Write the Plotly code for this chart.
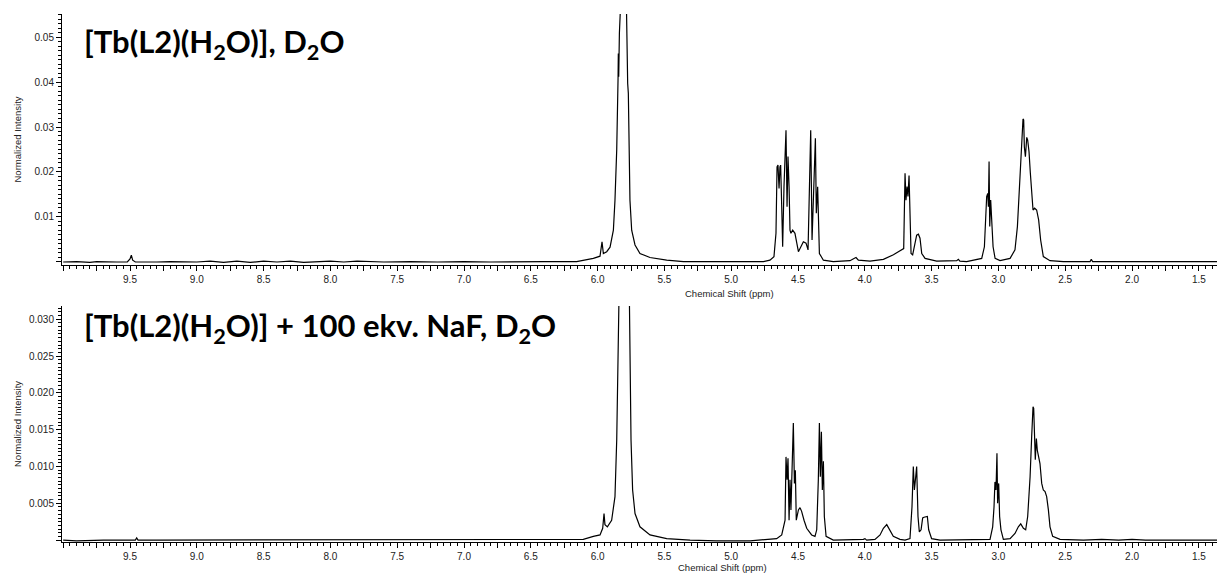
import plotly.graph_objects as go

# ---------------- data ----------------
top_ppm = [10.0, 9.9, 9.8, 9.75, 9.6, 9.52, 9.50, 9.49, 9.48, 9.46, 9.3, 9.2, 9.0, 8.9, 8.8, 8.7,
           8.6, 8.5, 8.4, 8.3, 8.2, 8.0, 7.9, 7.8, 7.6, 7.4, 7.2, 7.0, 6.8, 6.6, 6.4,
           6.157, 6.107, 6.032, 5.982, 5.967, 5.957, 5.932, 5.907, 5.882, 5.870, 5.857, 5.847,
           5.845, 5.842, 5.837, 5.832, 5.826, 5.815, 5.803, 5.785, 5.780, 5.775, 5.770, 5.765,
           5.758, 5.745, 5.720, 5.683, 5.608, 5.483, 5.358, 5.109, 4.759, 4.710, 4.680, 4.665,
           4.657, 4.650, 4.642, 4.635, 4.630, 4.622, 4.615, 4.605, 4.597, 4.590, 4.582, 4.575,
           4.567, 4.560, 4.553, 4.540, 4.523, 4.497, 4.460, 4.440, 4.425, 4.415, 4.405, 4.395,
           4.383, 4.370, 4.363, 4.353, 4.340, 4.310, 4.236, 4.111, 4.081, 4.066, 4.048, 3.986,
           3.961, 3.861, 3.786, 3.749, 3.724, 3.709, 3.699, 3.692, 3.684, 3.677, 3.669, 3.662,
           3.654, 3.642, 3.624, 3.612, 3.599, 3.587, 3.574, 3.549, 3.462, 3.312, 3.300, 3.288,
           3.238, 3.125, 3.105, 3.095, 3.088, 3.080, 3.075, 3.070, 3.065, 3.058, 3.050, 3.040,
           3.025, 2.988, 2.913, 2.876, 2.858, 2.843, 2.828, 2.816, 2.811, 2.806, 2.798, 2.788,
           2.781, 2.771, 2.761, 2.751, 2.741, 2.729, 2.714, 2.699, 2.684, 2.664, 2.614, 2.514,
           2.314, 2.305, 2.295, 2.115, 1.9, 1.7, 1.5, 1.36]
top_int = [-0.0001, 0.0, -0.0002, 0.0, -0.0001, -0.0001, 0.0006, 0.0014, 0.0003, -0.0001, -0.0001, 0.0,
           -0.0001, 0.0001, -0.0002, 0.0001, -0.0002, 0.0001, -0.0001, 0.0001, -0.0002, 0.0001,
           -0.0001, 0.0001, -0.0001, 0.0, -0.0001, 0.0, -0.0001, 0.0, 0.0,
           0.0, 0.0003, 0.0007, 0.0012, 0.0044, 0.0018, 0.0022, 0.0032, 0.0070, 0.0137, 0.0249, 0.0409,
           0.0464, 0.0412, 0.0509, 0.0583, 0.075, 0.068, 0.075, 0.0583, 0.0409, 0.0397, 0.0375, 0.0286,
           0.0137, 0.0070, 0.0037, 0.0018, 0.0009, 0.0003, 0.0, 0.0, 0.0, 0.0003, 0.0011, 0.0063,
           0.0211, 0.0215, 0.0163, 0.0211, 0.0215, 0.0122, 0.0033, 0.0167, 0.0271, 0.0293, 0.0122, 0.0234,
           0.0167, 0.0070, 0.0063, 0.0070, 0.0063, 0.0022, 0.0044, 0.0041, 0.0026, 0.0160, 0.0293, 0.0048,
           0.0174, 0.0275, 0.0108, 0.0167, 0.0018, 0.0003, 0.0, 0.0002, 0.0007, 0.0009, 0.0003, 0.0001,
           0.0001, 0.0005, 0.0015, 0.0022, 0.0026, 0.0029, 0.0197, 0.0137, 0.0167, 0.0145, 0.0192, 0.0070,
           0.0018, 0.0015, 0.0041, 0.0059, 0.0061, 0.0052, 0.0018, 0.0007, 0.0001, 0.0002, 0.0005, 0.0001,
           0.0, 0.0007, 0.0033, 0.0100, 0.0145, 0.0152, 0.0122, 0.0223, 0.0078, 0.0137, 0.0078, 0.0033,
           0.0007, 0.0002, 0.0007, 0.0026, 0.0078, 0.0174, 0.0263, 0.0318, 0.0316, 0.0256, 0.0234, 0.0277,
           0.0271, 0.0245, 0.0197, 0.0145, 0.0115, 0.0119, 0.0115, 0.0093, 0.0048, 0.0011, 0.0002, 0.0,
           0.0, 0.0005, 0.0, 0.0, 0.0, 0.0, 0.0, 0.0]

bot_ppm = [10.0, 9.9, 9.7, 9.5, 9.46, 9.45, 9.44, 9.3, 9.0, 8.5, 8.0, 7.5, 7.0, 6.8, 6.6, 6.4,
           6.3, 6.182, 6.107, 6.032, 5.982, 5.962, 5.952, 5.945, 5.927, 5.895, 5.870, 5.857, 5.847,
           5.840, 5.837, 5.825, 5.815, 5.805, 5.763, 5.758, 5.750, 5.738, 5.720, 5.683, 5.608, 5.483,
           5.308, 5.109, 4.859, 4.660, 4.622, 4.597, 4.590, 4.582, 4.575, 4.567, 4.560, 4.553, 4.543,
           4.535, 4.527, 4.520, 4.513, 4.497, 4.485, 4.473, 4.455, 4.435, 4.398, 4.373, 4.360, 4.348,
           4.340, 4.333, 4.325, 4.318, 4.310, 4.303, 4.290, 4.236, 4.011, 3.999, 3.986, 3.924, 3.886,
           3.861, 3.836, 3.811, 3.787, 3.737, 3.699, 3.662, 3.647, 3.637, 3.629, 3.619, 3.612, 3.602,
           3.592, 3.579, 3.567, 3.557, 3.542, 3.532, 3.522, 3.500, 3.437, 3.337, 3.2, 3.063, 3.043,
           3.033, 3.026, 3.018, 3.011, 3.006, 2.998, 2.991, 2.981, 2.963, 2.913, 2.876, 2.851, 2.833,
           2.813, 2.796, 2.781, 2.763, 2.751, 2.741, 2.736, 2.731, 2.724, 2.716, 2.709, 2.699, 2.689,
           2.676, 2.664, 2.651, 2.639, 2.626, 2.614, 2.594, 2.539, 2.364, 2.227, 2.1, 2.0, 1.9, 1.7,
           1.5, 1.36]
bot_int = [0.0, -0.0001, 0.0, 0.0, 0.0, 0.0003, 0.0, 0.0, 0.0, 0.0, 0.0, 0.0, 0.0, 0.0, 0.0001, 0.0,
           0.0, 0.0, 0.0001, 0.0005, 0.0007, 0.0016, 0.0036, 0.0021, 0.0018, 0.0027, 0.0059, 0.0136, 0.0249,
           0.0317, 0.0340, 0.050, 0.047, 0.050, 0.0340, 0.0249, 0.0136, 0.0068, 0.0036, 0.0018, 0.0007, 0.0002,
           0.0, -0.0001, -0.0001, 0.0002, 0.0007, 0.0027, 0.0113, 0.0082, 0.0111, 0.0027, 0.0082, 0.0041, 0.0104,
           0.0159, 0.0077, 0.0095, 0.0027, 0.0041, 0.0044, 0.0039, 0.0027, 0.0016, 0.0007, 0.0005, 0.0014, 0.0082,
           0.0159, 0.0086, 0.0147, 0.0068, 0.0107, 0.0032, 0.0005, 0.0, 0.0001, 0.0002, 0.0, 0.0001, 0.0007,
           0.0016, 0.0021, 0.0013, 0.0005, 0.0001, 0.0, 0.0002, 0.0045, 0.0100, 0.0068, 0.0086, 0.0100, 0.0032,
           0.0011, 0.0014, 0.0030, 0.0031, 0.0032, 0.0032, 0.0014, 0.0002, 0.0, 0.0, 0.0001, 0.0001, 0.0018,
           0.0045, 0.0079, 0.0068, 0.0118, 0.0050, 0.0077, 0.0032, 0.0014, 0.0001, 0.0002, 0.0009, 0.0018, 0.0022,
           0.0016, 0.0014, 0.0032, 0.0086, 0.0141, 0.0181, 0.0179, 0.0150, 0.0109, 0.0138, 0.0122, 0.0113, 0.0104,
           0.0077, 0.0068, 0.0066, 0.0059, 0.0041, 0.0018, 0.0005, 0.0001, 0.0, 0.0001, 0.0, 0.0001, 0.0, 0.0,
           0.0, 0.0]

x_tickvals = [10.0, 9.75, 9.5, 9.25, 9.0, 8.75, 8.5, 8.25, 8.0, 7.75, 7.5, 7.25, 7.0, 6.75, 6.5, 6.25,
              6.0, 5.75, 5.5, 5.25, 5.0, 4.75, 4.5, 4.25, 4.0, 3.75, 3.5, 3.25, 3.0, 2.75, 2.5, 2.25,
              2.0, 1.75, 1.5]
x_ticktext = ["", "", "9.5", "", "9.0", "", "8.5", "", "8.0", "", "7.5", "", "7.0", "", "6.5", "",
              "6.0", "", "5.5", "", "5.0", "", "4.5", "", "4.0", "", "3.5", "", "3.0", "", "2.5", "",
              "2.0", "", "1.5"]
top_yticks = [0.0, 0.01, 0.02, 0.03, 0.04, 0.05]
top_ytext = ["", "0.01", "0.02", "0.03", "0.04", "0.05"]
bot_yticks = [0.0, 0.005, 0.010, 0.015, 0.020, 0.025, 0.030]
bot_ytext = ["", "0.005", "0.010", "0.015", "0.020", "0.025", "0.030"]

top_title = "[Tb(L2)(H<sub>2</sub>O)], D<sub>2</sub>O"
bot_title = "[Tb(L2)(H<sub>2</sub>O)] + 100 ekv. NaF, D<sub>2</sub>O"
x_title = "Chemical Shift (ppm)"
y_title = "Normalized Intensity"

# ---------------- figure ----------------
fig = go.Figure()
fig.add_trace(go.Scatter(x=top_ppm, y=top_int, mode="lines", xaxis="x", yaxis="y",
                         line=dict(color="black", width=1.2), showlegend=False, hoverinfo="skip"))
fig.add_trace(go.Scatter(x=bot_ppm, y=bot_int, mode="lines", xaxis="x2", yaxis="y2",
                         line=dict(color="black", width=1.2), showlegend=False, hoverinfo="skip"))

tickfont = dict(family="Liberation Sans, Arial, sans-serif", size=10, color="#222")

def xaxis_cfg(anchor):
    return dict(domain=[0, 1], anchor=anchor, range=[10.009, 1.364], tickmode="array",
                tickvals=x_tickvals, ticktext=x_ticktext, ticks="outside", ticklen=5, tickwidth=1,
                tickcolor="black", showline=True, linecolor="black", linewidth=1,
                showgrid=False, zeroline=False, tickfont=tickfont,
                minor=dict(tickmode="linear", tick0=0, dtick=0.05, ticks="outside", ticklen=3,
                           tickcolor="black", tickwidth=1, showgrid=False))

def yaxis_cfg(anchor, domain, rng, tv, tt, mdt):
    return dict(domain=domain, anchor=anchor, range=rng, tickmode="array", tickvals=tv, ticktext=tt,
                ticks="outside", ticklen=5, tickwidth=1, tickcolor="black", showline=True,
                linecolor="black", linewidth=1, showgrid=False, zeroline=False, tickfont=tickfont,
                minor=dict(tickmode="linear", tick0=0, dtick=mdt, ticks="outside", ticklen=3,
                           tickcolor="black", tickwidth=1, showgrid=False))

title_font = dict(family="Lato, Open Sans, sans-serif", size=31, color="black")
small_font = dict(family="Liberation Sans, Arial, sans-serif", size=9.5, color="#222")

fig.update_layout(
    width=1217, height=575, autosize=False,
    margin=dict(l=62, r=0, t=14, b=33, pad=0),
    paper_bgcolor="white", plot_bgcolor="white",
    xaxis=xaxis_cfg("y"),
    yaxis=yaxis_cfg("x", [0.5246, 1.0], [-0.00077, 0.0552], top_yticks, top_ytext, 0.001),
    xaxis2=xaxis_cfg("y2"),
    yaxis2=yaxis_cfg("x2", [0.0, 0.447], [-0.00026, 0.0318], bot_yticks, bot_ytext, 0.0005),
    annotations=[
        dict(text="<b>" + top_title + "</b>", xref="paper", yref="paper", x=0.0175, y=0.945,
             xanchor="left", yanchor="middle", showarrow=False, font=title_font),
        dict(text="<b>" + bot_title + "</b>", xref="paper", yref="paper", x=0.0175, y=0.407,
             xanchor="left", yanchor="middle", showarrow=False, font=title_font),
        dict(text=x_title, xref="paper", yref="paper", x=0.578, y=0.4697, xanchor="center",
             yanchor="middle", showarrow=False, font=small_font),
        dict(text=x_title, xref="paper", yref="paper", x=0.572, y=-0.0492, xanchor="center",
             yanchor="middle", showarrow=False, font=small_font),
        dict(text=y_title, xref="paper", yref="paper", x=-0.0381, y=0.7623, xanchor="center",
             yanchor="middle", textangle=-90, showarrow=False, font=small_font),
        dict(text=y_title, xref="paper", yref="paper", x=-0.0381, y=0.2235, xanchor="center",
             yanchor="middle", textangle=-90, showarrow=False, font=small_font),
    ],
)

fig.write_html("out.html", config={"displayModeBar": False},
               post_script="document.body.style.margin='0';document.body.style.overflow='hidden';")
